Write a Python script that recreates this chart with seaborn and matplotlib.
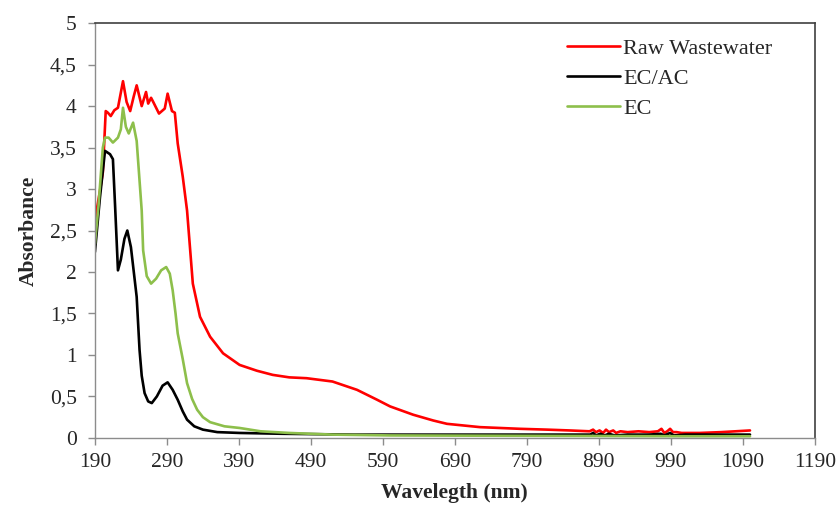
import matplotlib
matplotlib.use("Agg")
import matplotlib.pyplot as plt
import seaborn as sns
import pandas as pd
import numpy as np

# Raw Wastewater (red)
wl_raw = [190, 197, 201, 205, 208, 212, 217, 222, 229, 234, 239, 244, 248, 255, 261, 264, 268,
          271, 279, 287, 291, 297, 301, 305, 312, 318, 322, 326, 336, 350, 368, 391, 415, 437,
          460, 484, 520, 554, 582, 600, 632, 660, 679, 725, 780, 818, 850, 877, 882, 886, 891,
          896, 900, 904, 910, 914, 920, 930, 945, 960, 972, 977, 981, 985, 989, 993, 998, 1005,
          1030, 1060, 1080, 1100]
abs_raw = [2.62, 2.98, 3.20, 3.94, 3.92, 3.88, 3.95, 3.98, 4.30, 4.05, 3.94, 4.12, 4.25, 4.00,
           4.17, 4.03, 4.10, 4.05, 3.91, 3.97, 4.15, 3.94, 3.92, 3.55, 3.15, 2.74, 2.30, 1.86,
           1.46, 1.22, 1.02, 0.88, 0.81, 0.76, 0.73, 0.72, 0.68, 0.58, 0.46, 0.38, 0.28, 0.21,
           0.17, 0.13, 0.11, 0.10, 0.09, 0.08, 0.10, 0.07, 0.09, 0.06, 0.10, 0.07, 0.09, 0.06,
           0.08, 0.07, 0.08, 0.07, 0.08, 0.11, 0.06, 0.08, 0.11, 0.07, 0.07, 0.06, 0.06, 0.07,
           0.08, 0.09]

# EC/AC (black)
wl_ecac = [190, 197, 204, 211, 215, 218, 222, 226, 231, 235, 240, 244, 248, 252, 255, 259, 264,
           269, 276, 284, 291, 298, 305, 312, 318, 328, 340, 360, 391, 450, 550, 700, 800, 860,
           878, 882, 886, 892, 898, 904, 912, 930, 960, 976, 981, 989, 994, 1010, 1050, 1100]
abs_ecac = [2.24, 2.90, 3.46, 3.42, 3.36, 2.80, 2.02, 2.15, 2.40, 2.50, 2.30, 2.00, 1.70, 1.06,
            0.75, 0.54, 0.44, 0.42, 0.50, 0.63, 0.67, 0.58, 0.46, 0.32, 0.22, 0.14, 0.10, 0.07,
            0.06, 0.05, 0.04, 0.04, 0.04, 0.04, 0.04, 0.06, 0.03, 0.05, 0.03, 0.05, 0.03, 0.04,
            0.04, 0.05, 0.03, 0.06, 0.03, 0.04, 0.04, 0.04]

# EC (green)
wl_ec = [190, 195, 201, 204, 209, 215, 222, 226, 229, 233, 237, 243, 248, 252, 255, 257, 262,
         268, 275, 282, 289, 294, 298, 302, 305, 312, 318, 325, 332, 340, 350, 370, 391, 420,
         460, 520, 600, 800, 1000, 1100]
abs_ec = [2.34, 2.80, 3.50, 3.62, 3.62, 3.56, 3.62, 3.72, 3.98, 3.75, 3.67, 3.80, 3.58, 3.10,
          2.74, 2.26, 1.95, 1.86, 1.92, 2.02, 2.06, 1.98, 1.78, 1.50, 1.26, 0.95, 0.66, 0.47,
          0.34, 0.25, 0.19, 0.14, 0.12, 0.08, 0.06, 0.04, 0.03, 0.025, 0.02, 0.02]

series = ["Raw Wastewater", "EC/AC", "EC"]
colors = ["#FF0000", "#000000", "#8DBF4B"]
x_ticks = list(range(190, 1191, 100))
y_ticks = [0, 0.5, 1, 1.5, 2, 2.5, 3, 3.5, 4, 4.5, 5]

df = pd.concat([
    pd.DataFrame({"wl": wl_raw, "abs": abs_raw, "sample": series[0]}),
    pd.DataFrame({"wl": wl_ecac, "abs": abs_ecac, "sample": series[1]}),
    pd.DataFrame({"wl": wl_ec, "abs": abs_ec, "sample": series[2]}),
])

sns.set_style("white")
plt.rcParams["font.family"] = ["Liberation Serif", "DejaVu Serif"]

fig = plt.figure(figsize=(8.4, 5.14), dpi=100)
ax = fig.add_axes([0.113, 0.148, 0.857, 0.807])

sns.lineplot(data=df, x="wl", y="abs", hue="sample", hue_order=series,
             palette=dict(zip(series, colors)), estimator=None, linewidth=1.9, ax=ax)

ax.set_xlim(190, 1190)
ax.set_ylim(0, 5)
ax.set_xticks(x_ticks)
ax.set_yticks(y_ticks)
ax.set_yticklabels([f"{v:g}".replace(".", ",") for v in y_ticks])
ax.tick_params(axis="both", direction="out", length=5, width=1, color="#8c8c8c",
               labelsize=15.5, left=True, bottom=True)
ax.tick_params(axis="x", pad=6)
ax.tick_params(axis="y", pad=8)
for s in ["left", "bottom"]:
    ax.spines[s].set_color("#8c8c8c")
    ax.spines[s].set_linewidth(1.0)
for s in ["top", "right"]:
    ax.spines[s].set_color("#404040")
    ax.spines[s].set_linewidth(1.2)

ax.set_xlabel("Wavelegth (nm)", fontsize=15.5, fontweight="bold", labelpad=8)
ax.set_ylabel("Absorbance", fontsize=15.5, fontweight="bold", labelpad=8)

ax.legend(loc="upper left", bbox_to_anchor=(0.643, 0.985), frameon=False, fontsize=16,
          handlelength=2.4, handletextpad=0.15, labelspacing=0.42, borderaxespad=0)

fig.savefig("out.png", dpi=100)
